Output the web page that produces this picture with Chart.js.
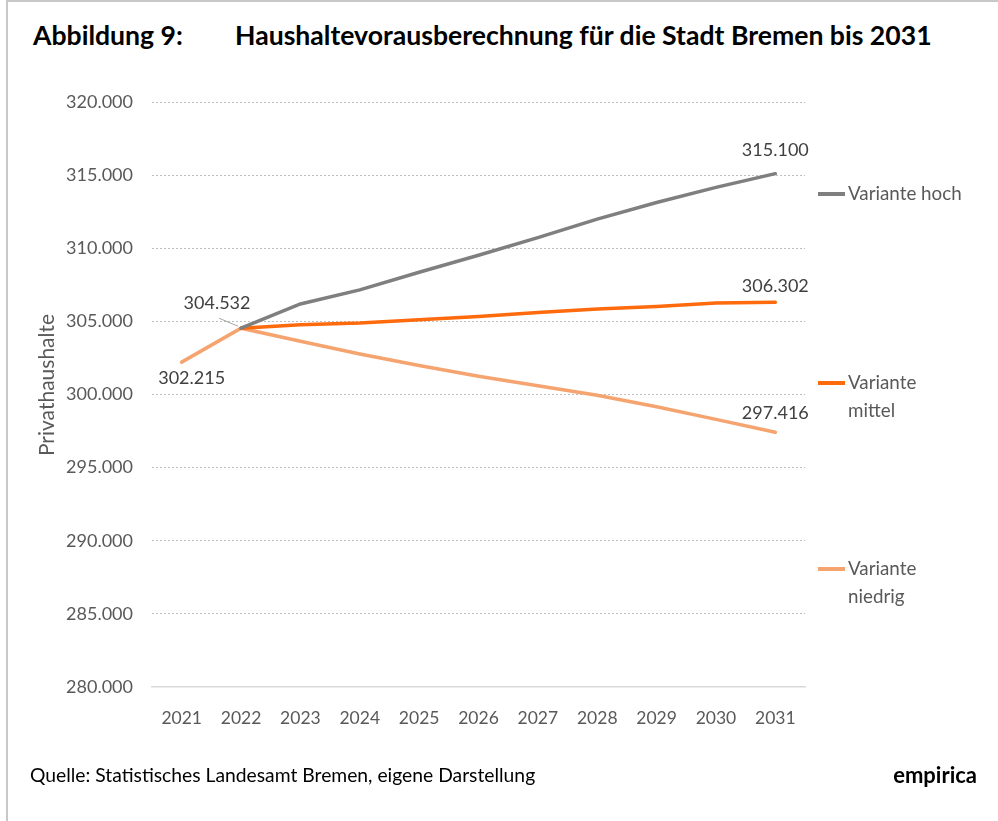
<!DOCTYPE html>
<html lang="de">
<head>
<meta charset="utf-8">
<title>Haushaltevorausberechnung Bremen</title>
<script src="https://cdn.jsdelivr.net/npm/chart.js@4.4.1/dist/chart.umd.min.js"></script>
<style>
    html, body { margin: 0; padding: 0; background: #fff; }
    body { width: 998px; height: 821px; position: relative; overflow: hidden; font-family: Lato, sans-serif; }
    .rahmen { position: absolute; left: 6px; top: 0; right: 0; bottom: 0; border-left: 2px solid #c8c8c8; border-top: 2px solid #c8c8c8; }
    .titel { position: absolute; top: 19px; font-weight: bold; font-size: 26.6px; color: #000; white-space: nowrap; }
    .quelle { position: absolute; left: 30px; top: 763px; font-size: 19.3px; color: #000; white-space: nowrap; }
    .marke { position: absolute; right: 21px; top: 761px; font-size: 22px; font-weight: bold; color: #000; }
    #chartHaushalte { position: absolute; left: 0; top: 0; }
</style>
</head>
<body>
<div class="rahmen"></div>
<div class="titel" style="left:33px">Abbildung 9:</div>
<div class="titel" style="left:235px">Haushaltevorausberechnung für die Stadt Bremen bis 2031</div>
<canvas id="chartHaushalte" width="998" height="821"></canvas>
<div class="quelle">Quelle: Statistisches Landesamt Bremen, eigene Darstellung</div>
<div class="marke">empirica</div>

<script>
const jahre = ['2021', '2022', '2023', '2024', '2025', '2026', '2027', '2028', '2029', '2030', '2031'];
const varianteHoch = [null, 304532, 306190, 307150, 308360, 309520, 310730, 311990, 313130, 314160, 315100];
const varianteMittel = [null, 304532, 304770, 304890, 305110, 305340, 305600, 305840, 306020, 306250, 306302];
const varianteNiedrig = [302215, 304532, 303640, 302770, 301980, 301250, 300600, 299950, 299160, 298300, 297416];
const yMin = 280000;
const yMax = 320000;
const ySchritt = 5000;

const GRAU_TEXT = '#595959';
const farben = { hoch: '#7f7f7f', mittel: '#ff6a0d', niedrig: '#f5a470' };

// 304532 -> "304.532"
function formatZahl(v) {
    return String(Math.round(v)).replace(/\B(?=(\d{3})+(?!\d))/g, '.');
}

// Beschriftung der Endwerte, Startwert und Verzweigungspunkt
const wertLabels = [
    { ds: 0, idx: 10, dx: 0, dy: -23 },
    { ds: 1, idx: 10, dx: 0, dy: -16 },
    { ds: 2, idx: 10, dx: 0, dy: -19 },
    { ds: 2, idx: 0, dx: 10, dy: 16 },
    { ds: 2, idx: 1, dx: -24, dy: -25, linie: true }
];

const zusatzPlugin = {
    id: 'zusatz',
    afterDatasetsDraw(chart) {
        const ctx = chart.ctx;
        const area = chart.chartArea;
        ctx.save();

        // Achsentitel links
        ctx.save();
        ctx.translate(47, 385);
        ctx.rotate(-Math.PI / 2);
        ctx.font = '21px Lato';
        ctx.fillStyle = GRAU_TEXT;
        ctx.textAlign = 'center';
        ctx.textBaseline = 'middle';
        ctx.fillText('Privathaushalte', 0, 0);
        ctx.restore();

        // Datenbeschriftungen
        ctx.font = '18px Lato';
        ctx.fillStyle = '#404040';
        ctx.textAlign = 'center';
        ctx.textBaseline = 'middle';
        wertLabels.forEach(l => {
            const pt = chart.getDatasetMeta(l.ds).data[l.idx];
            const wert = chart.data.datasets[l.ds].data[l.idx];
            const tx = pt.x + l.dx;
            const ty = pt.y + l.dy;
            if (l.linie) {
                ctx.strokeStyle = '#a6a6a6';
                ctx.lineWidth = 1;
                ctx.beginPath();
                ctx.moveTo(tx + 2, ty + 15);
                ctx.lineTo(pt.x - 3, pt.y - 2);
                ctx.stroke();
            }
            ctx.fillText(formatZahl(wert), tx, ty);
        });

        // Legende rechts
        const legX = area.right + 13;
        const eintraege = [
            { y: 194, farbe: farben.hoch, zeilen: ['Variante hoch'] },
            { y: 383, farbe: farben.mittel, zeilen: ['Variante', 'mittel'] },
            { y: 569, farbe: farben.niedrig, zeilen: ['Variante', 'niedrig'] }
        ];
        ctx.font = '18.8px Lato';
        ctx.textAlign = 'left';
        ctx.fillStyle = GRAU_TEXT;
        eintraege.forEach(e => {
            ctx.strokeStyle = e.farbe;
            ctx.lineWidth = 4;
            ctx.beginPath();
            ctx.moveTo(legX, e.y);
            ctx.lineTo(legX + 27, e.y);
            ctx.stroke();
            e.zeilen.forEach((z, i) => ctx.fillText(z, legX + 30, e.y + i * 28));
        });
        ctx.restore();
    }
};

new Chart(document.getElementById('chartHaushalte'), {
    type: 'line',
    data: {
        labels: jahre,
        datasets: [
            { label: 'Variante hoch', data: varianteHoch, borderColor: farben.hoch },
            { label: 'Variante mittel', data: varianteMittel, borderColor: farben.mittel },
            { label: 'Variante niedrig', data: varianteNiedrig, borderColor: farben.niedrig }
        ]
    },
    options: {
        responsive: false,
        animation: false,
        layout: { padding: { top: 102, left: 10, right: 193, bottom: 74 } },
        elements: {
            line: { borderWidth: 3.5, tension: 0, fill: false, borderCapStyle: 'round' },
            point: { radius: 0, hoverRadius: 0 }
        },
        scales: {
            x: {
                offset: true,
                grid: { display: false, drawTicks: false },
                border: { display: true, color: '#d9d9d9', width: 1.5 },
                ticks: { color: GRAU_TEXT, font: { family: 'Lato', size: 17.5 }, padding: 21, maxRotation: 0 },
                afterFit: s => { s.height = 60; }
            },
            y: {
                min: yMin,
                max: yMax,
                grid: {
                    drawTicks: false,
                    lineWidth: 1,
                    color: c => c.tick && c.tick.value === yMin ? 'rgba(0,0,0,0)' : '#bdbdbd'
                },
                border: { display: false, dash: [2, 2] },
                ticks: {
                    stepSize: ySchritt,
                    color: GRAU_TEXT,
                    font: { family: 'Lato', size: 18 },
                    padding: 19,
                    callback: v => formatZahl(v)
                },
                afterFit: s => { s.width = 142; }
            }
        },
        plugins: {
            legend: { display: false },
            tooltip: { enabled: false }
        }
    },
    plugins: [zusatzPlugin]
});
</script>
</body>
</html>
